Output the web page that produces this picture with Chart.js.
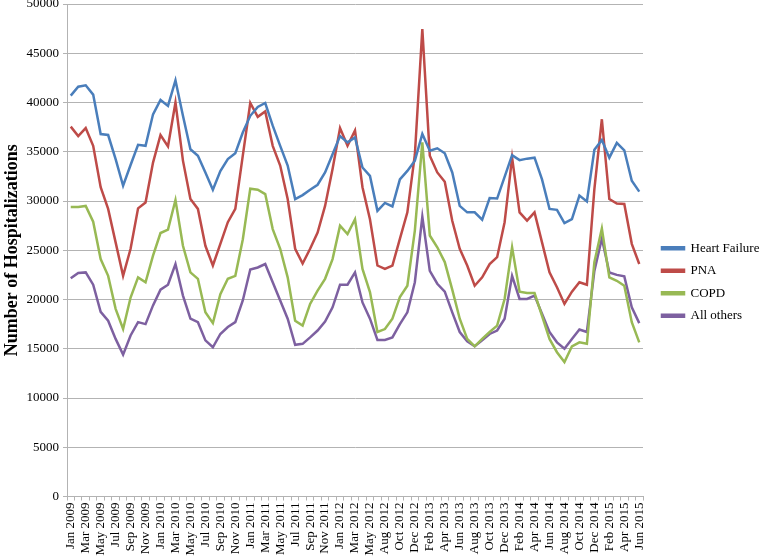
<!DOCTYPE html>
<html>
<head>
<meta charset="utf-8">
<script src="https://cdn.jsdelivr.net/npm/chart.js@4.4.1/dist/chart.umd.min.js"></script>
<style>
  html, body { margin: 0; padding: 0; background: #fff; }
  #wrap { width: 761px; height: 560px; }
</style>
</head>
<body>
<div id="wrap"><canvas id="lineChart"></canvas></div>
<script>
// monthly categories, Jan 2009 - Jun 2015 (one summer month of 2012 is absent in the source)
var months = [
	"Jan 2009", "Feb 2009", "Mar 2009", "Apr 2009", "May 2009", "Jun 2009", "Jul 2009", "Aug 2009", "Sep 2009", "Oct 2009", "Nov 2009", "Dec 2009",
	"Jan 2010", "Feb 2010", "Mar 2010", "Apr 2010", "May 2010", "Jun 2010", "Jul 2010", "Aug 2010", "Sep 2010", "Oct 2010", "Nov 2010", "Dec 2010",
	"Jan 2011", "Feb 2011", "Mar 2011", "Apr 2011", "May 2011", "Jun 2011", "Jul 2011", "Aug 2011", "Sep 2011", "Oct 2011", "Nov 2011", "Dec 2011",
	"Jan 2012", "Feb 2012", "Mar 2012", "Apr 2012", "May 2012", "Jun 2012", "Aug 2012", "Sep 2012", "Oct 2012", "Nov 2012",
	"Dec 2012", "Jan 2013", "Feb 2013", "Mar 2013", "Apr 2013", "May 2013", "Jun 2013", "Jul 2013", "Aug 2013", "Sep 2013", "Oct 2013", "Nov 2013",
	"Dec 2013", "Jan 2014", "Feb 2014", "Mar 2014", "Apr 2014", "May 2014", "Jun 2014", "Jul 2014", "Aug 2014", "Sep 2014", "Oct 2014", "Nov 2014",
	"Dec 2014", "Jan 2015", "Feb 2015", "Mar 2015", "Apr 2015", "May 2015", "Jun 2015"
];

var heartFailure = [
	40700, 41600, 41750, 40800, 36800, 36700, 34250, 31550, 33650, 35700, 35600, 38800,
	40250, 39650, 42250, 38650, 35250, 34600, 32900, 31150, 33050, 34250, 34850, 36950,
	38650, 39550, 39950, 37650, 35600, 33600, 30200, 30600, 31150, 31650, 32900, 34750,
	36600, 35950, 36450, 33400, 32550, 29000, 29800, 29450, 32200, 33050,
	34100, 36800, 35100, 35350, 34850, 32900, 29500, 28850, 28850, 28100, 30300, 30250,
	32450, 34650, 34150, 34300, 34400, 32200, 29200, 29100, 27750, 28150, 30550, 29950,
	35200, 36200, 34400, 35900, 35150, 32050, 30950
];

var pna = [
	37550, 36600, 37400, 35600, 31400, 29200, 25800, 22400, 25150, 29250, 29850, 33900,
	36700, 35550, 40000, 34100, 30200, 29200, 25450, 23450, 25650, 27850, 29200, 34600,
	39950, 38550, 39100, 35600, 33600, 30200, 25150, 23650, 25150, 26800, 29500, 33250,
	37400, 35600, 37150, 31400, 28150, 23450, 23100, 23450, 26150, 28850,
	34700, 47450, 34600, 32900, 31950, 28000, 25150, 23450, 21400, 22250, 23600, 24300,
	27850, 34400, 28850, 28000, 28850, 25800, 22750, 21250, 19550, 20800, 21750, 21500,
	31200, 38300, 30200, 29750, 29700, 25650, 23600
];

var copd = [
	29400, 29400, 29500, 27900, 24100, 22400, 19050, 17000, 20200, 22250, 21750, 24450,
	26750, 27100, 30100, 25450, 22750, 22100, 18700, 17600, 20550, 22100, 22400, 26100,
	31250, 31150, 30700, 27150, 25150, 22250, 17850, 17350, 19550, 20900, 22100, 24100,
	27500, 26650, 28150, 23100, 20750, 16700, 17000, 18050, 20250, 21400,
	27000, 35950, 26500, 25300, 23800, 21000, 18050, 16000, 15250, 16000, 16700, 17350,
	20050, 25300, 20800, 20650, 20650, 18350, 16000, 14650, 13650, 15250, 15650, 15500,
	23800, 27200, 22250, 21900, 21400, 17700, 15650
];

var allOthers = [
	22150, 22700, 22750, 21500, 18750, 17850, 16000, 14400, 16350, 17700, 17500, 19400,
	21000, 21500, 23600, 20400, 18050, 17700, 15850, 15150, 16500, 17200, 17700, 19900,
	23050, 23250, 23600, 21750, 19900, 18050, 15400, 15500, 16150, 16850, 17750, 19200,
	21500, 21500, 22750, 19700, 18050, 15900, 15900, 16150, 17500, 18700,
	21750, 28400, 22900, 21600, 20800, 18700, 16700, 15750, 15250, 15850, 16500, 16850,
	18050, 22400, 20050, 20050, 20400, 18550, 16700, 15650, 15000, 16000, 16950, 16700,
	22900, 26200, 22750, 22500, 22350, 19200, 17600
];

var yTicks = [0, 5000, 10000, 15000, 20000, 25000, 30000, 35000, 40000, 45000, 50000];

var serif = "'Liberation Serif', 'Times New Roman', serif";
var gridGray = '#b3b3b3';

function line(label, values, color) {
	return {
		label: label,
		data: values,
		borderColor: color,
		backgroundColor: color,
		borderWidth: 2.5,
		pointRadius: 0,
		tension: 0,
		fill: false
	};
}

var lineData = {
	labels: months,
	datasets: [
		line('Heart Failure', heartFailure, '#4a7ebb'),
		line('PNA', pna, '#be4b48'),
		line('COPD', copd, '#98b954'),
		line('All others', allOthers, '#7d60a0')
	]
};

// keep the legend column narrow like the original, and nudge it right
var legendPlacement = {
	id: 'legendPlacement',
	afterInit: function (chart) {
		var lg = chart.legend;
		var fit = lg.fit;
		lg.fit = function () {
			fit.call(this);
			this.width = 118;
		};
	},
	afterLayout: function (chart) {
		chart.legend.left += 9.5;
		chart.legend.right += 9.5;
	}
};

var lineOptions = {
	responsive: false,
	animation: false,
	layout: { padding: { top: 4, right: 0, left: 0, bottom: 0 } },
	plugins: {
		legend: {
			position: 'right',
			align: 'center',
			labels: {
				boxWidth: 22,
				boxHeight: 2,
				padding: 9.5,
				color: '#000',
				font: { family: serif, size: 13 }
			}
		},
		tooltip: { enabled: false }
	},
	scales: {
		x: {
			offset: true,
			grid: {
				display: true,
				offset: true,
				drawOnChartArea: false,
				drawTicks: true,
				tickLength: 4,
				color: gridGray
			},
			border: { display: true, color: gridGray },
			ticks: {
				autoSkip: false,
				minRotation: 90,
				maxRotation: 90,
				padding: 2,
				color: '#000',
				font: { family: serif, size: 13 },
				callback: function (value, index) {
					return index % 2 === 0 ? this.getLabelForValue(value) : '';
				}
			},
			afterFit: function (scale) { scale.height = 63.5; }
		},
		y: {
			min: 0,
			max: 50000,
			afterBuildTicks: function (scale) {
				scale.ticks = yTicks.map(function (v) { return { value: v }; });
			},
			grid: { color: gridGray, tickLength: 4 },
			border: { display: true, color: gridGray },
			ticks: {
				color: '#000',
				padding: 4,
				font: { family: serif, size: 13 },
				callback: function (v) { return String(v); }
			},
			title: {
				display: true,
				text: 'Number of Hospitalizations',
				color: '#000',
				padding: { top: 2, bottom: 4 },
				font: { family: serif, size: 18, weight: 'bold' }
			},
			afterFit: function (scale) {
				scale.width = 67;
				scale.paddingTop = 0;
				scale.paddingBottom = 0;
			}
		}
	}
};

var canvas = document.getElementById('lineChart');
canvas.width = 761;
canvas.height = 560;
var lineChart = new Chart(canvas.getContext('2d'), {
	type: 'line',
	data: lineData,
	options: lineOptions,
	plugins: [legendPlacement]
});
</script>
</body>
</html>
